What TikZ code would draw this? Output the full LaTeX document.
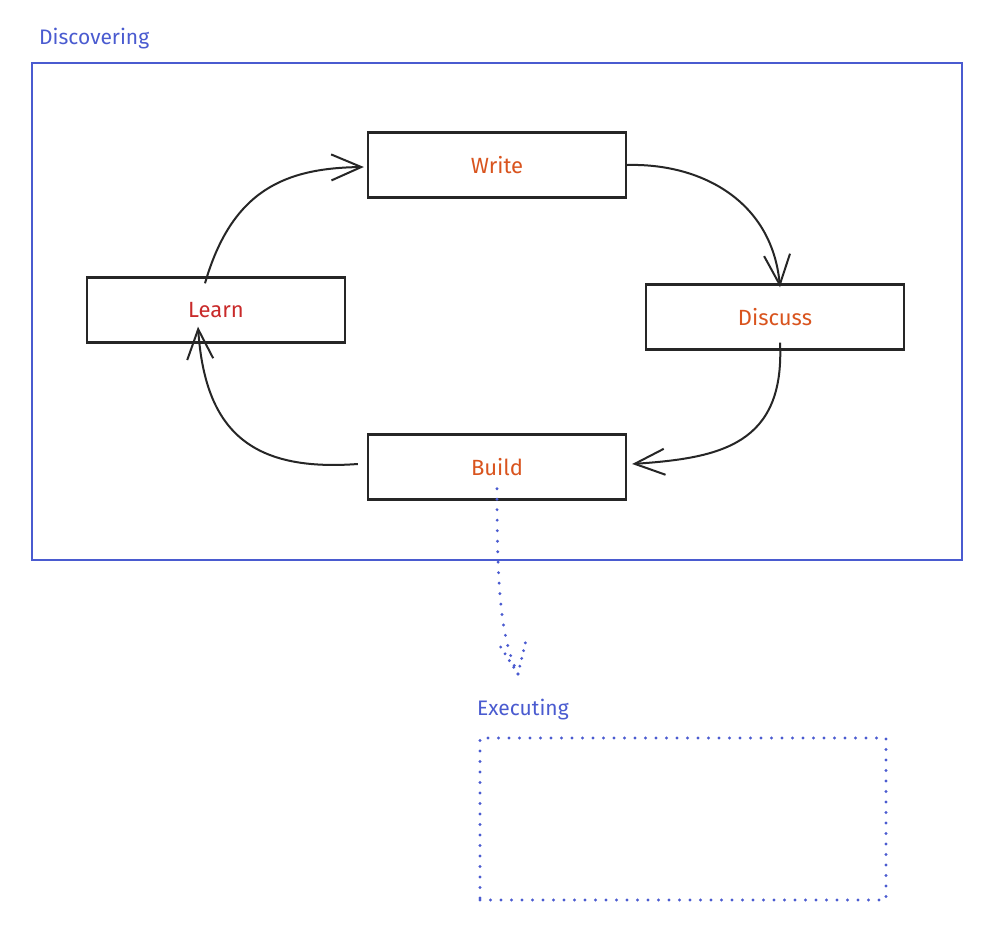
\documentclass[tikz,border=0pt]{standalone}
\usepackage{fontspec}
\setmainfont{Fira Sans}
\usetikzlibrary{arrows.meta}
\definecolor{frameblue}{HTML}{4A5BD0}
\definecolor{wcol}{HTML}{D9541E}
\definecolor{lcol}{HTML}{C92A2A}
\begin{document}
\begin{tikzpicture}[x=1pt,y=-1pt,
  stepbox/.style={draw=black!85,line width=2.4pt,minimum width=258pt,minimum height=65pt,inner sep=0pt,font=\fontsize{22}{26}\selectfont},
  flow/.style={draw=black!85,line width=2pt,-{Straight Barb[length=30pt,width=26pt,line width=2pt]}},
  dotted line/.style={draw=frameblue,line width=3.2pt,line cap=round,dash pattern=on 0pt off 10.5pt},
  grouplabel/.style={text=frameblue,font=\fontsize{21}{25}\selectfont,anchor=west,inner sep=0pt}]
\useasboundingbox (0,0) rectangle (1000,950);
\fill[white] (0,0) rectangle (1000,950);
% Discovering frame
\node[grouplabel] (dl) at (39,39) {Discovering};
\node[draw=frameblue,line width=2.2pt,minimum width=930pt,minimum height=497pt,inner sep=0pt] (disc) at (497,311.5) {};
% Executing frame
\node[grouplabel] (el) at (477,710) {Executing};
\node[dotted line,minimum width=406pt,minimum height=162pt,inner sep=0pt] (exec) at (683,819) {};
% steps
\node[stepbox,text=wcol] (W) at (497,165) {Write};
\node[stepbox,text=lcol] (L) at (216,310) {Learn};
\node[stepbox,text=wcol] (D) at (775,317) {Discuss};
\node[stepbox,text=wcol] (B) at (497,467) {Build};
% connectors
\draw[flow] ([shift={(-11pt,-7pt)}]L.north) .. controls (232,190) and (285,168) .. ([shift={(-3pt,-2pt)}]W.west);
\draw[flow] (W.east) .. controls (700,163) and (772,200) .. ([shift={(5pt,-4pt)}]D.north);
\draw[flow] ([shift={(5pt,8pt)}]D.south) .. controls (785,445) and (720,458) .. ([shift={(5pt,3pt)}]B.east);
\draw[flow] ([shift={(-9pt,3pt)}]B.west) .. controls (250,472) and (205,430) .. ([shift={(-18pt,17pt)}]L.south);
% dotted arrow
\draw[dotted line] ([yshift=12pt]B.south) .. controls (497,600) and (502,640) .. (518,674) coordinate (tip);
\draw[dotted line,dash pattern=on 0pt off 8pt] (tip) -- ++(-18,-28);
\draw[dotted line,dash pattern=on 0pt off 8pt] (tip) -- ++(8,-34);
\end{tikzpicture}
\end{document}
